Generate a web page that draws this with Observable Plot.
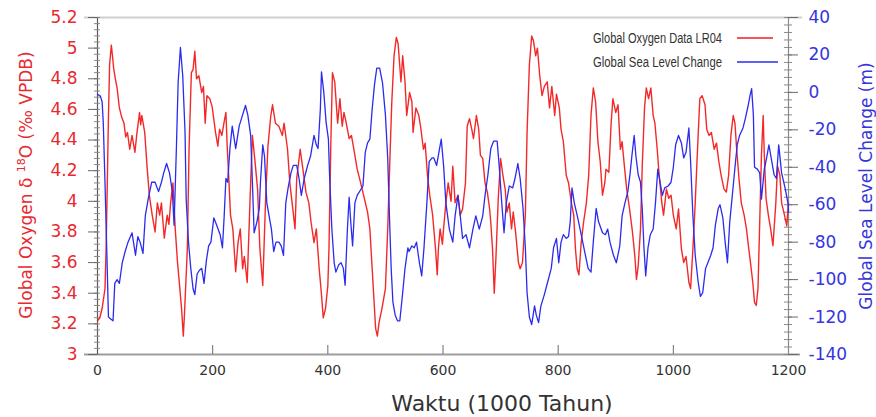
<!DOCTYPE html>
<html>
<head>
<meta charset="utf-8">
<script src="https://cdn.jsdelivr.net/npm/d3@7"></script>
<script src="https://cdn.jsdelivr.net/npm/@observablehq/plot@0.6"></script>
<style>
  html, body { margin: 0; padding: 0; background: #fff; }
  svg { display: block; }
</style>
</head>
<body>
<script>
// Benthic δ18O stack (LR04): [age in kyr, δ18O ‰ VPDB]
const lr04 = [
  [0,3.22],[4,3.24],[8,3.30],[13,3.43],[15,3.70],[17,4.12],[19,4.55],[21,4.89],[24,5.02],[26,4.95],
  [28,4.87],[31,4.80],[34,4.74],[38,4.61],[42,4.55],[46,4.51],[49,4.42],[52,4.45],[56,4.34],[60,4.43],
  [65,4.32],[68,4.43],[73,4.58],[75,4.50],[77,4.56],[82,4.45],[86,4.23],[90,4.04],[95,3.91],[100,3.80],
  [104,3.99],[108,3.91],[111,3.99],[116,3.76],[121,3.91],[124,3.85],[127,3.99],[131,4.12],[135,3.82],[139,3.60],
  [143,3.43],[146,3.30],[149,3.12],[151,3.26],[156,3.69],[159,4.34],[163,4.84],[166,4.86],[169,4.98],[172,4.80],
  [176,4.82],[181,4.71],[184,4.75],[187,4.51],[190,4.69],[195,4.67],[199,4.62],[205,4.45],[209,4.36],[212,4.47],
  [216,4.43],[220,4.52],[223,4.58],[225,4.38],[228,4.15],[231,3.91],[235,3.82],[240,3.54],[244,3.73],[248,3.82],
  [252,3.56],[255,3.64],[260,3.47],[265,4.02],[269,4.43],[273,4.28],[278,4.08],[282,3.69],[287,3.45],[292,4.02],
  [296,4.36],[301,4.56],[304,4.63],[309,4.51],[315,4.49],[321,4.43],[324,4.51],[330,4.34],[334,4.12],[338,3.99],
  [343,3.82],[346,4.15],[352,4.34],[356,4.23],[362,4.06],[367,3.99],[371,3.86],[376,3.73],[380,3.82],[385,3.56],
  [389,3.39],[392,3.24],[396,3.30],[400,3.45],[402,3.69],[405,4.34],[408,4.84],[412,4.78],[417,4.51],[421,4.67],
  [425,4.49],[428,4.58],[432,4.51],[437,4.41],[441,4.43],[447,4.30],[451,4.21],[457,4.12],[462,4.04],[469,3.93],
  [473,3.82],[477,3.56],[481,3.30],[483,3.17],[486,3.12],[489,3.21],[494,3.30],[500,3.43],[504,3.82],[508,4.30],
  [511,4.64],[515,4.95],[519,5.07],[522,5.03],[527,4.78],[530,4.95],[534,4.78],[537,4.56],[542,4.71],[546,4.65],
  [548,4.45],[553,4.61],[558,4.56],[561,4.49],[566,4.34],[569,4.38],[573,4.17],[577,4.04],[582,3.91],[587,3.69],
  [590,3.52],[592,3.69],[595,3.82],[599,3.72],[601,3.82],[605,3.99],[609,4.12],[614,4.00],[617,4.23],[621,3.99],
  [626,4.04],[630,3.91],[634,3.95],[639,4.12],[642,4.49],[646,4.54],[650,4.47],[653,4.41],[658,4.56],[662,4.47],
  [665,4.30],[669,4.28],[673,4.12],[677,4.06],[681,3.95],[683,3.86],[686,3.69],[689,3.40],[692,3.64],[696,4.02],
  [700,4.28],[704,4.17],[708,4.08],[711,3.93],[715,3.99],[719,3.82],[722,3.93],[726,3.80],[731,3.60],[734,3.56],
  [738,3.60],[743,3.91],[746,4.45],[750,4.89],[754,5.08],[757,5.05],[761,4.95],[764,5.00],[768,4.82],[772,4.69],
  [776,4.75],[781,4.78],[785,4.61],[789,4.75],[794,4.56],[797,4.70],[802,4.61],[805,4.47],[809,4.39],[814,4.17],
  [818,4.12],[823,3.99],[827,3.91],[830,3.69],[833,3.56],[836,3.52],[840,3.73],[844,3.86],[849,3.99],[853,4.17],
  [857,4.56],[861,4.74],[865,4.65],[869,4.39],[873,4.26],[877,4.04],[881,4.12],[883,4.21],[888,4.19],[892,4.51],
  [895,4.67],[900,4.58],[904,4.63],[908,4.34],[911,4.39],[915,4.23],[919,4.08],[924,3.95],[929,3.80],[933,3.65],
  [936,3.49],[939,3.58],[943,3.82],[946,4.23],[950,4.61],[953,4.74],[957,4.67],[961,4.74],[965,4.56],[968,4.51],
  [972,4.34],[975,4.19],[980,3.99],[983,3.91],[988,4.08],[992,4.02],[996,4.04],[1000,3.91],[1005,3.82],[1009,3.95],
  [1014,3.69],[1018,3.60],[1022,3.64],[1027,3.47],[1030,3.43],[1034,3.69],[1038,3.99],[1042,4.34],[1046,4.67],[1050,4.69],
  [1055,4.63],[1058,4.47],[1062,4.43],[1066,4.45],[1071,4.34],[1075,4.38],[1079,4.26],[1083,4.17],[1088,4.08],[1092,4.06],
  [1096,4.17],[1100,4.43],[1104,4.56],[1107,4.51],[1110,4.34],[1114,4.15],[1118,3.99],[1123,3.91],[1127,3.82],[1131,3.69],
  [1134,3.60],[1138,3.47],[1141,3.34],[1144,3.32],[1147,3.43],[1150,3.86],[1153,4.30],[1156,4.56],[1158,4.30],[1161,4.02],
  [1165,3.91],[1169,3.82],[1173,3.71],[1178,3.99],[1181,4.23],[1185,4.17],[1188,3.99],[1193,3.91],[1197,3.84],[1200,3.99]
];

// Global sea level relative to present: [age in kyr, metres]
const seaLevel = [
  [0,-1],[5,-2],[8,-5],[10,-16],[13,-48],[16,-83],[19,-120],[23,-121],[27,-122],[30,-102],
  [34,-100],[38,-102],[43,-91],[48,-85],[53,-80],[60,-75],[66,-87],[70,-77],[74,-80],[79,-86],
  [83,-66],[88,-57],[94,-48],[100,-48],[106,-53],[111,-48],[115,-43],[120,-38],[125,-43],[130,-53],
  [133,-71],[137,-30],[140,5],[144,24],[148,9],[152,-21],[154,-57],[158,-80],[162,-94],[166,-105],
  [169,-108],[173,-97],[177,-95],[181,-94],[185,-102],[189,-90],[193,-82],[197,-80],[202,-67],[207,-71],
  [213,-76],[217,-83],[220,-66],[223,-46],[226,-48],[230,-30],[234,-18],[240,-30],[246,-18],[252,-12],
  [257,-7],[261,-12],[266,-23],[269,-48],[272,-75],[277,-69],[281,-62],[283,-48],[287,-28],[290,-34],
  [294,-59],[298,-66],[302,-73],[306,-85],[310,-80],[315,-80],[319,-82],[323,-87],[327,-59],[331,-51],
  [336,-43],[340,-39],[346,-39],[350,-46],[354,-55],[359,-46],[365,-39],[370,-34],[376,-23],[380,-28],
  [383,-30],[387,-9],[389,11],[393,0],[397,-16],[401,-25],[403,-44],[407,-73],[411,-91],[414,-96],
  [419,-92],[423,-91],[427,-94],[430,-103],[434,-73],[437,-56],[440,-70],[443,-82],[447,-59],[451,-55],
  [457,-52],[461,-50],[465,-32],[469,-27],[473,-25],[477,-9],[481,4],[485,13],[490,13],[495,5],
  [500,-12],[504,-35],[507,-66],[510,-94],[513,-112],[517,-119],[521,-122],[525,-122],[530,-107],[534,-94],
  [539,-83],[541,-85],[546,-82],[550,-83],[554,-80],[559,-91],[563,-98],[567,-83],[572,-59],[576,-37],
  [581,-35],[584,-35],[589,-39],[594,-30],[597,-25],[601,-39],[605,-59],[611,-73],[617,-80],[621,-66],
  [626,-55],[630,-66],[634,-78],[640,-76],[646,-83],[652,-73],[657,-66],[663,-73],[669,-66],[673,-55],
  [678,-44],[683,-30],[688,-26],[694,-26],[698,-41],[702,-59],[706,-75],[710,-59],[715,-50],[721,-51],
  [725,-46],[730,-38],[734,-46],[739,-62],[743,-83],[746,-107],[750,-120],[754,-124],[759,-114],[762,-119],
  [766,-123],[770,-114],[776,-108],[782,-101],[788,-94],[792,-83],[797,-78],[801,-91],[805,-80],[809,-76],
  [814,-78],[818,-77],[821,-69],[824,-51],[828,-59],[834,-67],[840,-76],[846,-85],[852,-94],[857,-96],
  [861,-80],[866,-62],[870,-69],[877,-75],[882,-76],[886,-73],[890,-80],[896,-87],[901,-91],[907,-82],
  [911,-66],[916,-59],[921,-53],[925,-43],[928,-34],[932,-23],[935,-34],[939,-44],[943,-48],[946,-62],
  [949,-83],[952,-98],[956,-83],[960,-76],[965,-73],[969,-59],[973,-41],[977,-48],[981,-55],[985,-51],
  [991,-50],[996,-48],[1000,-40],[1004,-28],[1009,-23],[1014,-27],[1018,-35],[1022,-32],[1027,-19],[1030,-37],
  [1034,-66],[1038,-87],[1043,-101],[1047,-109],[1051,-107],[1056,-94],[1060,-91],[1065,-87],[1069,-83],[1073,-71],
  [1078,-62],[1081,-60],[1086,-67],[1090,-80],[1094,-91],[1098,-69],[1104,-50],[1108,-37],[1111,-28],[1115,-23],
  [1121,-19],[1125,-14],[1130,-7],[1133,-2],[1136,2],[1139,-12],[1141,-40],[1146,-41],[1150,-43],[1153,-57],
  [1158,-41],[1162,-35],[1166,-28],[1171,-37],[1175,-44],[1179,-46],[1183,-28],[1188,-43],[1194,-51],[1199,-59],
  [1200,-64]
];

// Axis ticks
const xTicks = [0, 200, 400, 600, 800, 1000, 1200];
const oxygenTicks = [3, 3.2, 3.4, 3.6, 3.8, 4, 4.2, 4.4, 4.6, 4.8, 5, 5.2];
const seaTicks = [-140, -120, -100, -80, -60, -40, -20, 0, 20, 40];

// Series and legend labels
const seriesNames = ["Global Oxygen Data LR04", "Global Sea Level Change"];
const xTitle = "Waktu (1000 Tahun)";
const rightTitle = "Global Sea Level Change (m)";

const RED = "#f21d1d";
const BLUE = "#2b2bef";
const RED_TEXT = "#e8292f";
const BLUE_TEXT = "#3535dc";

// Sea level is drawn on the δ18O scale through a linear mapping
const seaToO = d3.scaleLinear([-140, 40], [3, 5.2]);

const oxygenMinor = d3.range(3, 5.2001, 0.04);
const seaMinor = d3.range(-140, 40.01, 4).map(seaToO);

const chart = Plot.plot({
  width: 876,
  height: 417,
  marginTop: 17,
  marginRight: 88,
  marginBottom: 63,
  marginLeft: 97,
  x: {domain: [0, 1200]},
  y: {domain: [3, 5.2]},
  style: {fontFamily: "'DejaVu Sans', Verdana, sans-serif", background: "#fff"},
  marks: [
    // frame
    Plot.ruleY([5.2], {stroke: "#cfcfcf", strokeWidth: 2, insetLeft: -13, insetRight: -14}),
    Plot.ruleY([3], {stroke: "#9d9d9d", strokeWidth: 2, insetLeft: -13, insetRight: -12}),
    Plot.ruleX([0], {stroke: "#5a5a5a", strokeWidth: 1.2}),
    Plot.ruleX([1200], {stroke: "#8a8a8a", strokeWidth: 1.2}),
    // left ticks
    Plot.ruleY(oxygenMinor, {stroke: "#8a8a8a", insetLeft: -3, insetRight: 688}),
    Plot.ruleY(oxygenTicks, {stroke: "#6a6a6a", insetLeft: -9, insetRight: 691}),
    // right ticks
    Plot.ruleY(seaMinor, {stroke: "#8a8a8a", insetLeft: 687, insetRight: -4}),
    Plot.ruleY(seaTicks.map(seaToO), {stroke: "#6a6a6a", insetLeft: 691, insetRight: -10}),
    // bottom ticks pointing inward
    Plot.ruleX(xTicks.slice(1, -1), {stroke: "#6a6a6a", insetTop: 328}),
    // series
    Plot.line(lr04, {x: d => d[0], y: d => d[1], stroke: RED, strokeWidth: 1.4, strokeOpacity: 0.95}),
    Plot.line(seaLevel, {x: d => d[0], y: d => seaToO(d[1]), stroke: BLUE, strokeWidth: 1.3}),
    // tick labels
    Plot.axisX(xTicks, {tickSize: 0, tickPadding: 11, fontSize: 14, color: "#333", label: null,
      tickFormat: d => String(d)}),
    Plot.axisY(oxygenTicks, {anchor: "left", tickSize: 0, tickPadding: 20, fontSize: 17, color: RED_TEXT,
      label: null, tickFormat: d => String(d)}),
    Plot.axisY(seaTicks.map(seaToO), {anchor: "right", tickSize: 0, tickPadding: 20, fontSize: 17, color: BLUE_TEXT,
      label: null, tickFormat: d => String(Math.round(seaToO.invert(d)) || 0)})
  ]
});

document.body.appendChild(chart);

const svg = d3.select(chart);

// x-axis title
svg.append("text")
  .attr("x", 502).attr("y", 411)
  .attr("text-anchor", "middle")
  .attr("font-size", 22)
  .attr("fill", "#333")
  .text(xTitle);

// left title with superscript isotope number
const lt = svg.append("text")
  .attr("transform", "translate(26,185) rotate(-90)")
  .attr("text-anchor", "middle")
  .attr("dy", "0.35em")
  .attr("font-size", 17)
  .attr("fill", RED_TEXT);
lt.append("tspan").text("Global Oxygen δ ");
lt.append("tspan").attr("font-size", 11).attr("dy", "-0.6em").text("18");
lt.append("tspan").attr("dy", "0.4em").text("O (‰ VPDB)");

// right title
svg.append("text")
  .attr("transform", "translate(866,186) rotate(-90)")
  .attr("text-anchor", "middle")
  .attr("dy", "0.35em")
  .attr("font-size", 17)
  .attr("fill", BLUE_TEXT)
  .text(rightTitle);

// legend
const legend = svg.append("g");
[[seriesNames[0], RED, 38, 773], [seriesNames[1], BLUE, 62, 778]].forEach(([name, color, y, x2]) => {
  legend.append("text")
    .attr("x", 722).attr("y", y + 5)
    .attr("text-anchor", "end")
    .attr("font-family", "'Liberation Sans Narrow', 'Arial Narrow', sans-serif")
    .attr("font-size", 14)
    .attr("textLength", 129)
    .attr("lengthAdjust", "spacingAndGlyphs")
    .attr("fill", "#333")
    .text(name);
  legend.append("line")
    .attr("x1", 737).attr("x2", x2)
    .attr("y1", y).attr("y2", y)
    .attr("stroke", color).attr("stroke-width", 1.5);
});
</script>
</body>
</html>
